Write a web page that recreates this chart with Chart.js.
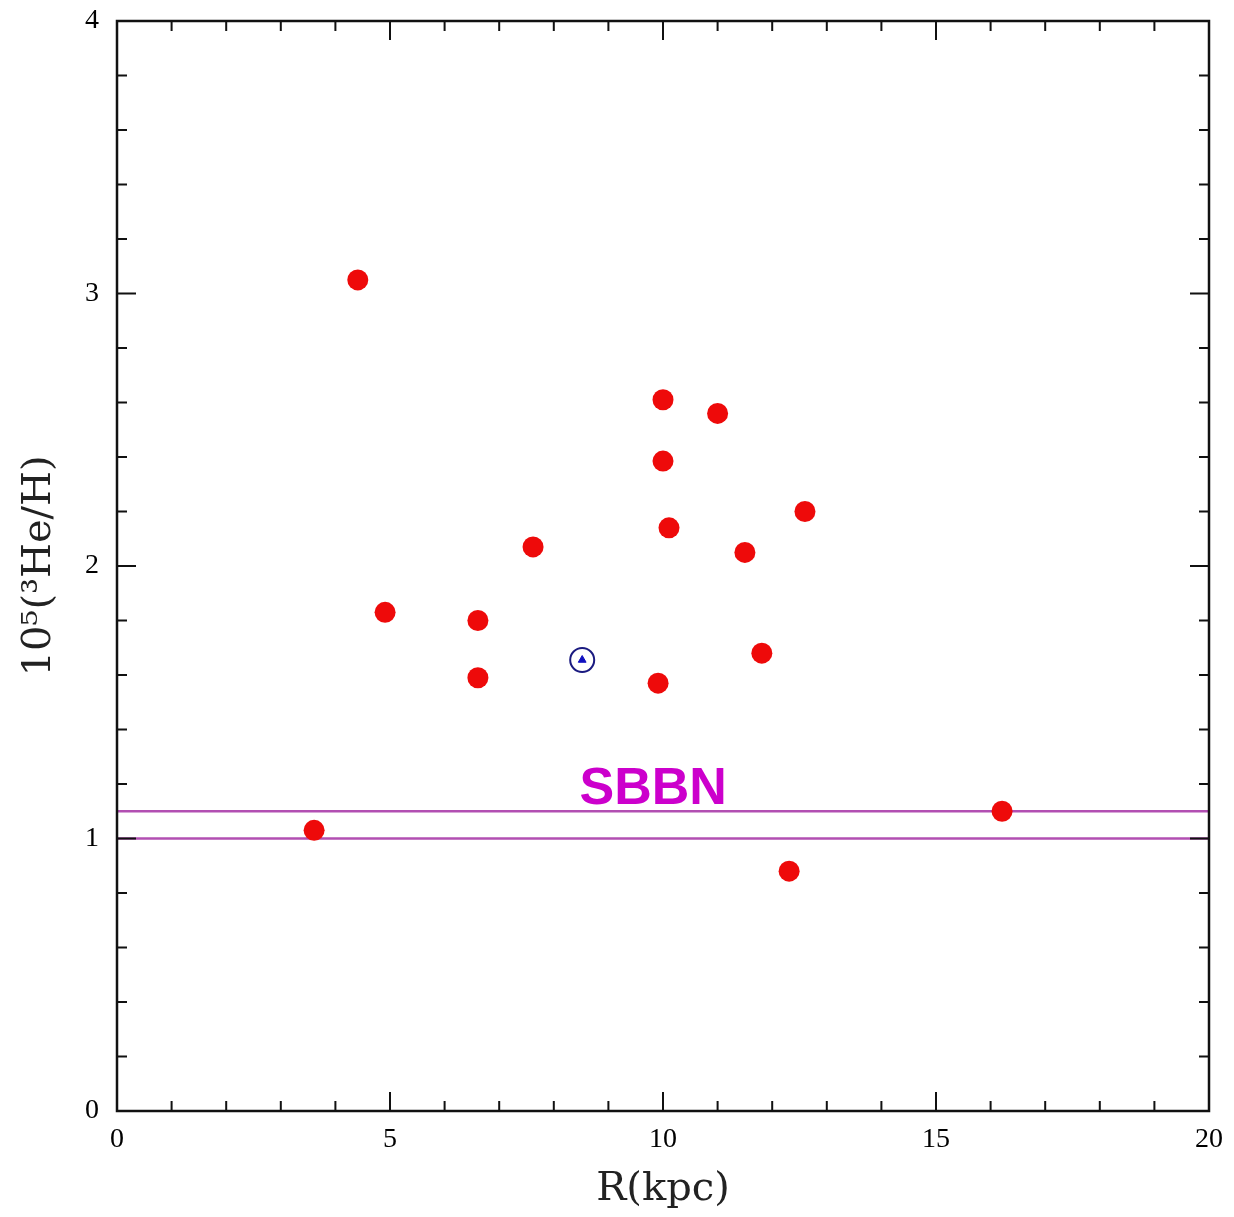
<!DOCTYPE html>
<html>
<head>
<meta charset="utf-8">
<script src="https://cdn.jsdelivr.net/npm/chart.js@4/dist/chart.umd.min.js"></script>
<style>
html,body{margin:0;padding:0;background:#fff;}
canvas{display:block;}
</style>
</head>
<body>
<canvas id="c" width="1234" height="1217"></canvas>
<script>
// ---- data ----
const rKpc   = [4.41, 4.91, 6.61, 6.61, 7.62, 10.0, 10.0, 10.11, 9.91, 11.0, 11.5, 12.6, 11.81, 3.61, 16.21, 12.31];
const he3H   = [3.05, 1.83, 1.80, 1.59, 2.07, 2.61, 2.385, 2.14, 1.57, 2.56, 2.05, 2.20, 1.68, 1.03, 1.10, 0.88];
const sunR   = [8.52];
const sunHe  = [1.655];
const sbbnLow  = [1.0, 1.0];
const sbbnHigh = [1.1, 1.1];
const sbbnX    = [0, 20];
const sbbnLabel = 'SBBN';
const sbbnLabelPos = [9.82, 1.178];
const xTickLabels = ['0', '5', '10', '15', '20'];
const yTickLabels = ['0', '1', '2', '3', '4'];
const xTitle = 'R(kpc)';
const yTitle = '10\u2075(\u00B3He/H)';

const pts = (xs, ys) => xs.map((x, i) => ({x: x, y: ys[i]}));

const frameTicks = {
  id: 'frameTicks',
  afterDatasetsDraw(chart) {
    const {ctx, chartArea: a, scales: {x, y}} = chart;
    ctx.save();
    ctx.strokeStyle = '#111';
    ctx.lineWidth = 2.5;
    ctx.strokeRect(a.left, a.top, a.right - a.left, a.bottom - a.top);
    ctx.lineWidth = 2;
    ctx.beginPath();
    for (let v = 0; v <= 20; v += 1) {
      const p = x.getPixelForValue(v);
      const L = (v % 5 === 0) ? 19 : 10;
      ctx.moveTo(p, a.bottom); ctx.lineTo(p, a.bottom - L);
      ctx.moveTo(p, a.top); ctx.lineTo(p, a.top + L);
    }
    for (let k = 0; k <= 20; k += 1) {
      const v = k * 0.2;
      const p = y.getPixelForValue(v);
      const L = (k % 5 === 0) ? 19 : 10;
      ctx.moveTo(a.left, p); ctx.lineTo(a.left + L, p);
      ctx.moveTo(a.right, p); ctx.lineTo(a.right - L, p);
    }
    ctx.stroke();
    // SBBN label
    ctx.fillStyle = '#cc00cc';
    ctx.font = 'bold 52px "Liberation Sans", Arial, sans-serif';
    ctx.textAlign = 'center';
    ctx.textBaseline = 'middle';
    ctx.fillText(sbbnLabel, x.getPixelForValue(sbbnLabelPos[0]), y.getPixelForValue(sbbnLabelPos[1]));
    ctx.restore();
  }
};

new Chart(document.getElementById('c'), {
  type: 'scatter',
  data: {
    datasets: [
      {
        type: 'line', data: pts(sbbnX, sbbnHigh), borderColor: '#b24fb2', borderWidth: 2.5,
        pointRadius: 0, fill: false, order: 5
      },
      {
        type: 'line', data: pts(sbbnX, sbbnLow), borderColor: '#b24fb2', borderWidth: 2.5,
        pointRadius: 0, fill: false, order: 5
      },
      {
        data: pts(rKpc, he3H), backgroundColor: '#ee0a0a', borderColor: '#ee0a0a',
        pointRadius: 10.5, borderWidth: 0, order: 1
      },
      {
        data: pts(sunR, sunHe), backgroundColor: 'rgba(255,255,255,0)', borderColor: '#1a1a80',
        pointRadius: 12, borderWidth: 2, order: 2
      },
      {
        data: pts(sunR, sunHe), backgroundColor: '#1010c0', borderColor: '#1010c0',
        pointStyle: 'triangle', pointRadius: 4.5, borderWidth: 1, order: 0
      }
    ]
  },
  options: {
    responsive: false,
    animation: false,
    devicePixelRatio: 1,
    layout: {padding: {top: 21, right: 25, left: 0, bottom: 0}},
    plugins: {legend: {display: false}, tooltip: {enabled: false}},
    scales: {
      x: {
        type: 'linear', min: 0, max: 20,
        grid: {display: false, drawTicks: false},
        border: {display: false},
        afterFit(s) { s.height = 106; s.paddingLeft = 0; s.paddingRight = 0; },
        afterBuildTicks(s) { s.ticks = xTickLabels.map(t => ({value: Number(t)})); },
        ticks: {
          color: '#000', padding: 12,
          font: {family: '"Liberation Serif", serif', size: 28},
          callback: (v, i) => xTickLabels[i]
        },
        title: {
          display: true, text: xTitle, color: '#222',
          font: {family: '"DejaVu Serif", serif', size: 40, lineHeight: 1},
          padding: {top: 0, bottom: 7}
        }
      },
      y: {
        type: 'linear', min: 0, max: 4,
        grid: {display: false, drawTicks: false},
        border: {display: false},
        afterFit(s) { s.width = 117; s.paddingTop = 0; s.paddingBottom = 0; },
        afterBuildTicks(s) { s.ticks = yTickLabels.map(t => ({value: Number(t)})); },
        ticks: {
          color: '#000', padding: 18,
          font: {family: '"Liberation Serif", serif', size: 28},
          callback: (v, i) => yTickLabels[i]
        },
        title: {
          display: true, text: yTitle, color: '#222',
          font: {family: '"DejaVu Serif", serif', size: 40, lineHeight: 1},
          padding: {top: 20, bottom: 0}
        }
      }
    }
  },
  plugins: [frameTicks]
});
</script>
</body>
</html>
